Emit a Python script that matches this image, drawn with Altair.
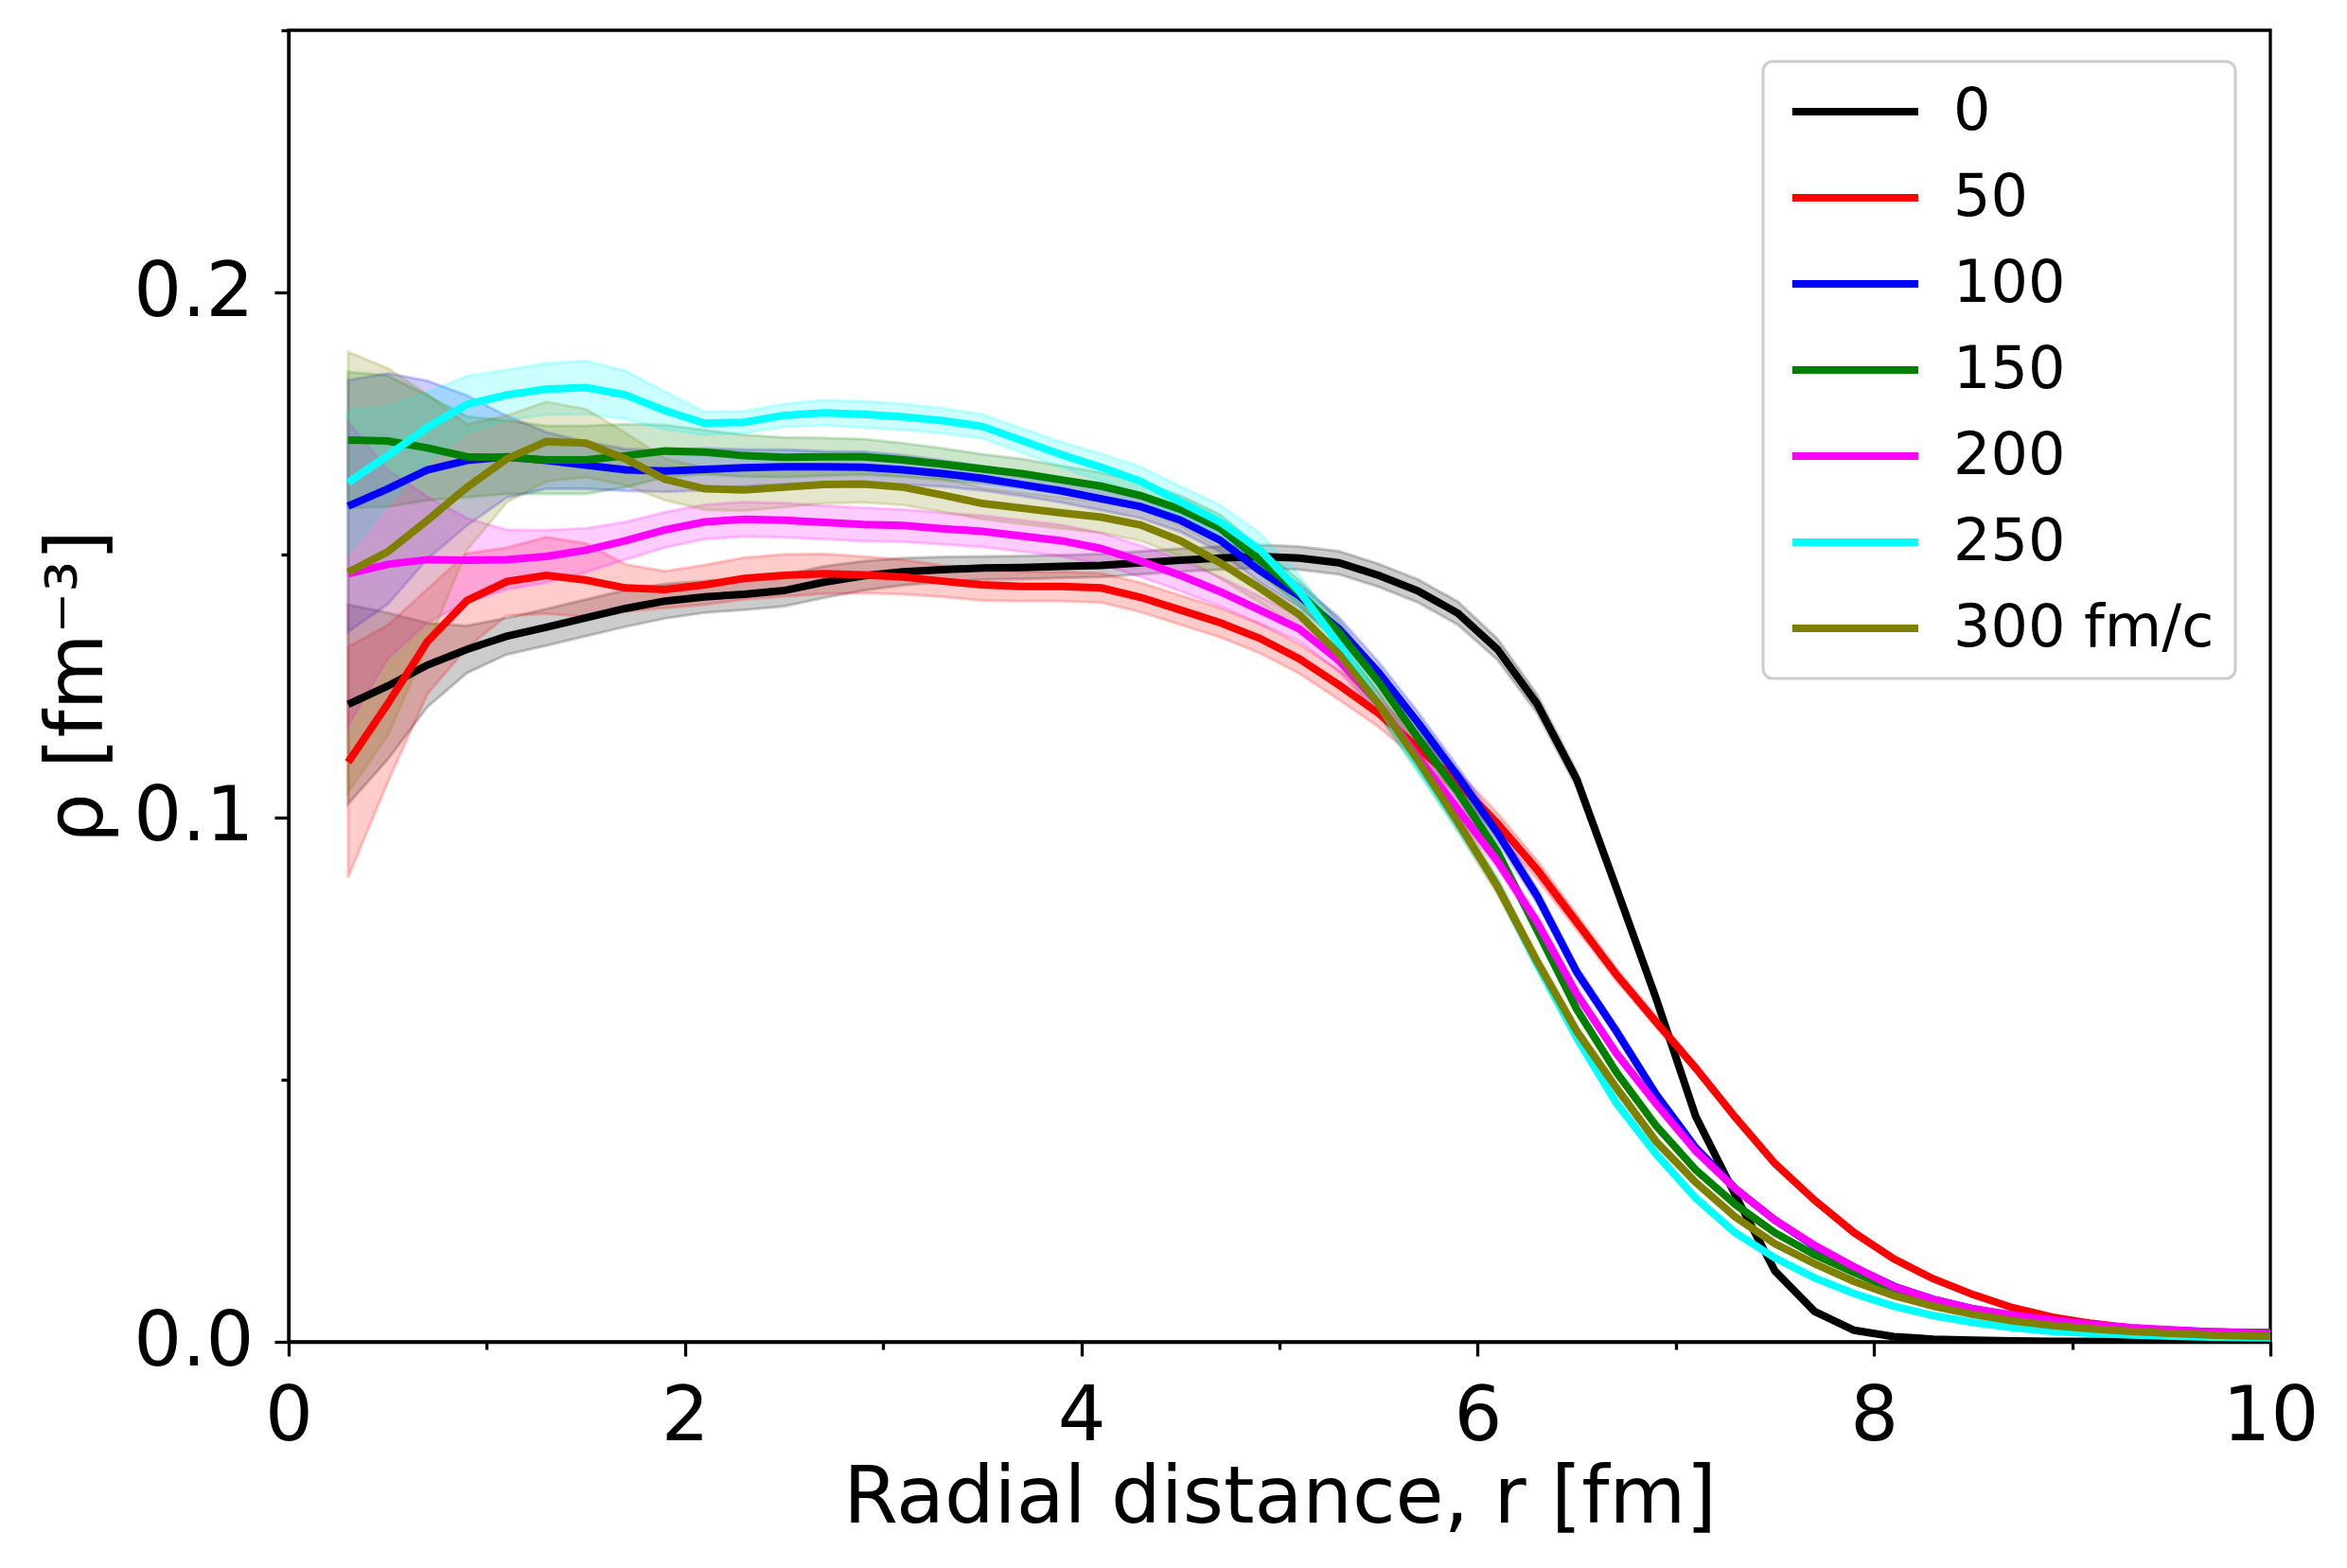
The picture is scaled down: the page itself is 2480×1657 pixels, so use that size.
import altair as alt
import pandas as pd

# ---- data ----
SERIES = ["0", "50", "100", "150", "200", "250", "300 fm/c"]
COLORS = ["#000000", "#ff0000", "#0000ff", "#008000", "#ff00ff", "#00ffff", "#808000"]

R = [0.3, 0.5, 0.7, 0.9, 1.1, 1.3, 1.5, 1.7, 1.9, 2.1,
     2.3, 2.5, 2.7, 2.9, 3.1, 3.3, 3.5, 3.7, 3.9, 4.1,
     4.3, 4.5, 4.7, 4.9, 5.1, 5.3, 5.5, 5.7, 5.9, 6.1,
     6.3, 6.5, 6.7, 6.9, 7.1, 7.3, 7.5, 7.7, 7.9, 8.1,
     8.3, 8.5, 8.7, 8.9, 9.1, 9.3, 9.5, 9.7, 9.9, 10.1]

rho_0 = [0.1215, 0.1250, 0.1290, 0.1320, 0.1345, 0.1362, 0.1380, 0.1398, 0.1412, 0.1420,
         0.1425, 0.1432, 0.1448, 0.1460, 0.1468, 0.1472, 0.1475, 0.1476, 0.1478, 0.1480,
         0.1485, 0.1490, 0.1494, 0.1497, 0.1494, 0.1485, 0.1461, 0.1431, 0.1389, 0.1320,
         0.1216, 0.1072, 0.0865, 0.0655, 0.0430, 0.0280, 0.0135, 0.0058, 0.0022, 0.0010,
         0.0005, 0.0003, 0.0002, 0.0001, 0.0001, 0.0001, 0.0001, 0.0001, 0.0001, 0.0001]
rho_50 = [0.1105, 0.1216, 0.1335, 0.1413, 0.1449, 0.1461, 0.1452, 0.1437, 0.1434, 0.1443,
          0.1455, 0.1461, 0.1464, 0.1462, 0.1458, 0.1450, 0.1443, 0.1440, 0.1440, 0.1437,
          0.1419, 0.1395, 0.1371, 0.1341, 0.1302, 0.1252, 0.1198, 0.1132, 0.1066, 0.0988,
          0.0900, 0.0800, 0.0700, 0.0610, 0.0522, 0.0428, 0.0340, 0.0270, 0.0208, 0.0158,
          0.0120, 0.0090, 0.0065, 0.0047, 0.0035, 0.0026, 0.0020, 0.0016, 0.0013, 0.0012]
rho_100 = [0.1593, 0.1626, 0.1662, 0.1680, 0.1687, 0.1680, 0.1671, 0.1662, 0.1660, 0.1663,
           0.1666, 0.1668, 0.1668, 0.1667, 0.1662, 0.1655, 0.1646, 0.1634, 0.1622, 0.1607,
           0.1592, 0.1566, 0.1528, 0.1470, 0.1422, 0.1359, 0.1276, 0.1180, 0.1078, 0.0970,
           0.0850, 0.0705, 0.0592, 0.0472, 0.0370, 0.0292, 0.0232, 0.0182, 0.0142, 0.0106,
           0.0081, 0.0063, 0.0050, 0.0040, 0.0032, 0.0026, 0.0022, 0.0019, 0.0017, 0.0016]
rho_150 = [0.1719, 0.1717, 0.1704, 0.1687, 0.1686, 0.1681, 0.1681, 0.1689, 0.1698, 0.1696,
           0.1689, 0.1686, 0.1687, 0.1687, 0.1681, 0.1673, 0.1664, 0.1655, 0.1643, 0.1631,
           0.1613, 0.1587, 0.1551, 0.1490, 0.1428, 0.1353, 0.1258, 0.1150, 0.1048, 0.0934,
           0.0785, 0.0634, 0.0514, 0.0412, 0.0328, 0.0262, 0.0208, 0.0166, 0.0132, 0.0100,
           0.0077, 0.0058, 0.0044, 0.0035, 0.0028, 0.0024, 0.0021, 0.0019, 0.0018, 0.0018]
rho_200 = [0.1464, 0.1482, 0.1491, 0.1490, 0.1491, 0.1497, 0.1509, 0.1527, 0.1548, 0.1563,
           0.1568, 0.1566, 0.1562, 0.1558, 0.1556, 0.1550, 0.1545, 0.1536, 0.1527, 0.1512,
           0.1488, 0.1461, 0.1430, 0.1395, 0.1359, 0.1299, 0.1216, 0.1114, 0.1015, 0.0916,
           0.0800, 0.0663, 0.0550, 0.0454, 0.0364, 0.0292, 0.0232, 0.0184, 0.0143, 0.0105,
           0.0081, 0.0063, 0.0051, 0.0042, 0.0033, 0.0027, 0.0023, 0.0019, 0.0017, 0.0016]
rho_250 = [0.1638, 0.1689, 0.1743, 0.1787, 0.1805, 0.1816, 0.1819, 0.1805, 0.1775, 0.1751,
           0.1753, 0.1766, 0.1771, 0.1768, 0.1763, 0.1756, 0.1745, 0.1718, 0.1691, 0.1667,
           0.1640, 0.1601, 0.1563, 0.1510, 0.1431, 0.1329, 0.1216, 0.1102, 0.0988, 0.0870,
           0.0720, 0.0580, 0.0455, 0.0358, 0.0274, 0.0208, 0.0160, 0.0122, 0.0092, 0.0068,
           0.0050, 0.0037, 0.0027, 0.0020, 0.0016, 0.0013, 0.0011, 0.0009, 0.0008, 0.0007]
rho_300 = [0.1467, 0.1506, 0.1566, 0.1629, 0.1683, 0.1716, 0.1713, 0.1683, 0.1644, 0.1626,
           0.1624, 0.1629, 0.1634, 0.1635, 0.1629, 0.1614, 0.1598, 0.1589, 0.1580, 0.1572,
           0.1557, 0.1527, 0.1485, 0.1437, 0.1386, 0.1311, 0.1216, 0.1108, 0.0991, 0.0868,
           0.0725, 0.0592, 0.0484, 0.0382, 0.0304, 0.0238, 0.0187, 0.0149, 0.0115, 0.0088,
           0.0068, 0.0052, 0.0040, 0.0031, 0.0025, 0.0020, 0.0016, 0.0013, 0.0011, 0.0010]

# half-widths of the shaded uncertainty bands
err_0 = [0.0190, 0.0140, 0.0080, 0.0045, 0.0035, 0.0035, 0.0035, 0.0035, 0.0033, 0.0030,
         0.0030, 0.0030, 0.0030, 0.0028, 0.0026, 0.0024, 0.0022, 0.0022, 0.0022, 0.0022,
         0.0022, 0.0022, 0.0022, 0.0022, 0.0022, 0.0022, 0.0022, 0.0022, 0.0022, 0.0020,
         0.0018, 0.0015, 0.0012, 0.0010, 0.0008, 0.0006, 0.0005, 0.0004, 0.0003, 0.0002,
         0.0002, 0.0002, 0.0002, 0.0002, 0.0002, 0.0002, 0.0002, 0.0002, 0.0002, 0.0002]
err_50 = [0.0220, 0.0150, 0.0100, 0.0090, 0.0065, 0.0073, 0.0070, 0.0045, 0.0035, 0.0038,
          0.0040, 0.0040, 0.0038, 0.0035, 0.0033, 0.0030, 0.0030, 0.0028, 0.0028, 0.0028,
          0.0028, 0.0028, 0.0028, 0.0028, 0.0028, 0.0028, 0.0026, 0.0024, 0.0022, 0.0020,
          0.0018, 0.0015, 0.0012, 0.0010, 0.0008, 0.0006, 0.0005, 0.0004, 0.0003, 0.0003,
          0.0002, 0.0002, 0.0002, 0.0002, 0.0002, 0.0002, 0.0002, 0.0002, 0.0002, 0.0002]
err_100 = [0.0240, 0.0220, 0.0170, 0.0124, 0.0078, 0.0054, 0.0045, 0.0040, 0.0040, 0.0040,
           0.0035, 0.0033, 0.0030, 0.0030, 0.0028, 0.0025, 0.0023, 0.0022, 0.0022, 0.0022,
           0.0022, 0.0022, 0.0022, 0.0022, 0.0022, 0.0022, 0.0020, 0.0020, 0.0018, 0.0016,
           0.0014, 0.0012, 0.0010, 0.0008, 0.0006, 0.0005, 0.0004, 0.0003, 0.0003, 0.0002,
           0.0002, 0.0002, 0.0002, 0.0002, 0.0002, 0.0002, 0.0002, 0.0002, 0.0002, 0.0002]
err_150 = [0.0130, 0.0125, 0.0100, 0.0077, 0.0070, 0.0065, 0.0065, 0.0060, 0.0050, 0.0042,
           0.0040, 0.0038, 0.0036, 0.0034, 0.0032, 0.0030, 0.0028, 0.0028, 0.0027, 0.0026,
           0.0026, 0.0026, 0.0026, 0.0025, 0.0024, 0.0022, 0.0020, 0.0018, 0.0016, 0.0014,
           0.0012, 0.0010, 0.0008, 0.0007, 0.0006, 0.0005, 0.0004, 0.0003, 0.0003, 0.0002,
           0.0002, 0.0002, 0.0002, 0.0002, 0.0002, 0.0002, 0.0002, 0.0002, 0.0002, 0.0002]
err_200 = [0.0290, 0.0180, 0.0120, 0.0080, 0.0057, 0.0050, 0.0042, 0.0036, 0.0034, 0.0033,
           0.0033, 0.0033, 0.0032, 0.0032, 0.0031, 0.0030, 0.0030, 0.0030, 0.0030, 0.0030,
           0.0030, 0.0030, 0.0028, 0.0026, 0.0024, 0.0022, 0.0020, 0.0018, 0.0016, 0.0014,
           0.0012, 0.0010, 0.0008, 0.0007, 0.0006, 0.0005, 0.0004, 0.0003, 0.0003, 0.0002,
           0.0002, 0.0002, 0.0002, 0.0002, 0.0002, 0.0002, 0.0002, 0.0002, 0.0002, 0.0002]
err_250 = [0.0136, 0.0093, 0.0067, 0.0054, 0.0048, 0.0049, 0.0051, 0.0046, 0.0036, 0.0022,
           0.0021, 0.0022, 0.0024, 0.0025, 0.0025, 0.0024, 0.0023, 0.0023, 0.0024, 0.0026,
           0.0028, 0.0030, 0.0032, 0.0032, 0.0030, 0.0026, 0.0022, 0.0018, 0.0015, 0.0013,
           0.0011, 0.0010, 0.0008, 0.0007, 0.0006, 0.0005, 0.0004, 0.0003, 0.0003, 0.0002,
           0.0002, 0.0002, 0.0002, 0.0002, 0.0002, 0.0002, 0.0002, 0.0002, 0.0002, 0.0002]
err_300 = [0.0420, 0.0350, 0.0240, 0.0120, 0.0083, 0.0076, 0.0065, 0.0050, 0.0040, 0.0040,
           0.0040, 0.0038, 0.0036, 0.0035, 0.0034, 0.0032, 0.0030, 0.0030, 0.0030, 0.0030,
           0.0030, 0.0030, 0.0030, 0.0028, 0.0026, 0.0024, 0.0022, 0.0020, 0.0018, 0.0016,
           0.0014, 0.0012, 0.0010, 0.0008, 0.0007, 0.0006, 0.0005, 0.0004, 0.0003, 0.0002,
           0.0002, 0.0002, 0.0002, 0.0002, 0.0002, 0.0002, 0.0002, 0.0002, 0.0002, 0.0002]

X_TICKS = [0, 2, 4, 6, 8, 10]
X_MINOR = [1, 3, 5, 7, 9]
Y_TICKS = [0.0, 0.1, 0.2]
Y_MINOR = [0.05, 0.15, 0.25]

MEANS = [rho_0, rho_50, rho_100, rho_150, rho_200, rho_250, rho_300]
ERRS = [err_0, err_50, err_100, err_150, err_200, err_250, err_300]

rows = []
for k, name in enumerate(SERIES):
    for r, m, e in zip(R, MEANS[k], ERRS[k]):
        rows.append({"series": name, "r": r, "rho": m,
                     "lo": max(m - e, 0.0), "hi": m + e})
df = pd.DataFrame(rows)

FONT = "DejaVu Sans"
xscale = alt.Scale(domain=[0, 10], nice=False, zero=False)
yscale = alt.Scale(domain=[0, 0.25], nice=False, zero=False)
cscale = alt.Scale(domain=SERIES, range=COLORS)

base = alt.Chart(df)

bands = base.mark_area(fillOpacity=0.2, strokeOpacity=0.2, strokeWidth=3, clip=True).encode(
    x=alt.X("r:Q", scale=xscale, axis=None),
    y=alt.Y("lo:Q", scale=yscale, axis=None),
    y2="hi:Q",
    color=alt.Color("series:N", scale=cscale, legend=None),
    stroke=alt.Stroke("series:N", scale=cscale, legend=None),
)

lines = base.mark_line(strokeWidth=8, clip=True).encode(
    x=alt.X("r:Q", scale=xscale,
            axis=alt.Axis(values=X_TICKS, format="d", grid=False,
                          title="Radial distance, r [fm]",
                          titleFont=FONT, titleFontSize=83, titleFontWeight="normal",
                          titleColor="black", titleY=190, titleBaseline="alphabetic",
                          labelFont=FONT, labelFontSize=80, labelColor="black",
                          labelPadding=25, labelFlush=False,
                          tickSize=15, tickWidth=3.3, tickColor="black",
                          domainColor="black", domainWidth=3.3)),
    y=alt.Y("rho:Q", scale=yscale,
            axis=alt.Axis(values=Y_TICKS, format=".1f", grid=False,
                          title="ρ [fm⁻³]",
                          titleFont=FONT, titleFontSize=83, titleFontWeight="normal",
                          titleColor="black", titleX=-198, titleBaseline="alphabetic",
                          labelFont=FONT, labelFontSize=80, labelColor="black",
                          labelPadding=22, labelFlush=False,
                          tickSize=15, tickWidth=3.3, tickColor="black",
                          domainColor="black", domainWidth=3.3)),
    color=alt.Color("series:N", scale=cscale, sort=SERIES,
                    legend=alt.Legend(title=None, orient="none", legendX=1558, legendY=33,
                                      symbolType="M-1,0H5", symbolSize=1970,
                                      symbolStrokeWidth=8, labelFont=FONT,
                                      labelFontSize=62, labelColor="black",
                                      labelOffset=117, labelLimit=0, padding=22,
                                      rowPadding=29,
                                      fillColor="rgba(255,255,255,0.8)",
                                      strokeColor="#cccccc", cornerRadius=10)),
    detail="series:N",
    order="r:Q",
)

minor = base.mark_point(opacity=0).encode(
    x=alt.X("r:Q", scale=xscale,
            axis=alt.Axis(values=X_MINOR, labels=False, domain=False, grid=False,
                          title=None, orient="bottom", tickSize=8, tickWidth=3.3,
                          tickColor="black")),
    y=alt.Y("rho:Q", scale=yscale,
            axis=alt.Axis(values=Y_MINOR, labels=False, domain=False, grid=False,
                          title=None, orient="left", tickSize=8, tickWidth=3.3,
                          tickColor="black")),
)

chart = alt.layer(bands, lines, minor).resolve_axis(
    x="independent", y="independent"
).resolve_legend(
    color="independent", stroke="independent"
).properties(
    width=2094, height=1386,
    autosize=alt.AutoSizeParams(type="none"),
    padding={"left": 297, "top": 24, "right": 60, "bottom": 225},
    background="white",
).configure_view(
    stroke="black", strokeWidth=3.3
).configure_legend(
    strokeWidth=3
)

chart.save("out.html", embed_options={"renderer": "svg", "actions": False})
